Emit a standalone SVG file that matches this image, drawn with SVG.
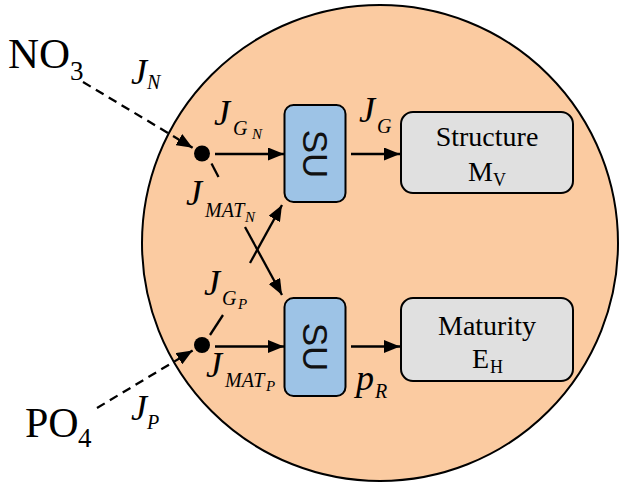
<svg xmlns="http://www.w3.org/2000/svg" width="619" height="483" viewBox="0 0 619 483">
<style>
.serif{font-family:"Liberation Serif","Times New Roman",serif;fill:#000}
.j{font-family:"Liberation Serif","Times New Roman",serif;font-style:italic;font-size:36px}
.s1{font-family:"Liberation Serif","Times New Roman",serif;font-style:italic;font-size:20px}
.s2{font-family:"Liberation Serif","Times New Roman",serif;font-style:italic;font-size:15px}
.su{fill:#9dc3e6;stroke:#000;stroke-width:2}
.sut{font-family:"Liberation Sans",Arial,sans-serif;font-size:35px;text-anchor:middle;dominant-baseline:central;fill:#111}
.box{fill:#e0e0e0;stroke:#000;stroke-width:2}
.ln{stroke:#000;stroke-width:2.3;fill:none}
.dash{stroke:#000;stroke-width:2.3;fill:none;stroke-dasharray:9 6}
.bx{font-family:"Liberation Serif","Times New Roman",serif;font-size:28px;text-anchor:middle}
</style>
<defs>
<marker id="ah" viewBox="0 0 16 13" refX="16" refY="6.5" markerWidth="16" markerHeight="13" markerUnits="userSpaceOnUse" orient="auto">
<path d="M0,0 L16,6.5 L0,13 z" fill="#000"/>
</marker>
</defs>
<g id="cell">
<circle cx="380" cy="243" r="238" fill="#fbcba1" stroke="#000" stroke-width="2"/>
</g>
<g id="no3">
<text class="serif" x="8" y="68" font-size="43">NO</text>
<text class="serif" x="70" y="80" font-size="27">3</text>
</g>
<g id="po4">
<text class="serif" x="25" y="437" font-size="42">PO</text>
<text class="serif" x="78" y="447" font-size="27">4</text>
</g>
<g id="dotN"><circle cx="202" cy="153.5" r="8" fill="#000"/></g>
<g id="dotP"><circle cx="202" cy="345" r="8" fill="#000"/></g>
<g id="su1">
<rect class="su" x="284.5" y="105" width="61" height="97" rx="9"/>
<text class="sut" x="315" y="154" transform="rotate(90 315 154)">SU</text>
</g>
<g id="su2">
<rect class="su" x="284.5" y="298" width="61" height="98" rx="9"/>
<text class="sut" x="315" y="347" transform="rotate(90 315 347)">SU</text>
</g>
<g id="structure">
<rect class="box" x="401" y="112" width="172" height="81" rx="12"/>
<text class="bx" x="487" y="146">Structure</text>
<text class="serif" x="468" y="181" font-size="28">M</text>
<text class="serif" x="493" y="186" font-size="18">V</text>
</g>
<g id="maturity">
<rect class="box" x="401" y="298" width="172" height="83" rx="12"/>
<text class="bx" x="487" y="335">Maturity</text>
<text class="serif" x="472" y="368" font-size="28">E</text>
<text class="serif" x="490" y="373" font-size="18">H</text>
</g>
<g id="connectors">
<line class="dash" x1="83" y1="82" x2="192.6" y2="147.8" marker-end="url(#ah)"/>
<line class="dash" x1="97" y1="408" x2="192.6" y2="350.5" marker-end="url(#ah)"/>
<line class="ln" x1="215" y1="154" x2="284" y2="154" marker-end="url(#ah)"/>
<line class="ln" x1="351" y1="154" x2="400" y2="154" marker-end="url(#ah)"/>
<line class="ln" x1="215" y1="346.5" x2="284" y2="346.5" marker-end="url(#ah)"/>
<line class="ln" x1="351" y1="346.5" x2="400" y2="346.5" marker-end="url(#ah)"/>
<line class="ln" x1="250" y1="263" x2="282" y2="205" marker-end="url(#ah)"/>
<line class="ln" x1="245" y1="227" x2="282" y2="295" marker-end="url(#ah)"/>
<line class="ln" x1="211.5" y1="163.5" x2="218.5" y2="177"/>
<line class="ln" x1="210" y1="335" x2="223" y2="315"/>
</g>
<g id="labels">
<text class="j" x="131" y="84">J</text><text class="s1" x="147" y="89">N</text>
<text class="j" x="214" y="125">J</text><text class="s1" x="233" y="135">G</text><text class="s2" x="252" y="139">N</text>
<text class="j" x="359" y="122">J</text><text class="s1" x="377" y="133">G</text>
<text class="j" x="186" y="205">J</text><text class="s1" x="205" y="217">MAT</text><text class="s2" x="245" y="222">N</text>
<text class="j" x="204" y="295">J</text><text class="s1" x="222" y="305">G</text><text class="s2" x="238" y="309">P</text>
<text class="j" x="206" y="377">J</text><text class="s1" x="225" y="387">MAT</text><text class="s2" x="266" y="391">P</text>
<text class="j" x="131" y="420">J</text><text class="s1" x="147" y="429">P</text>
<text class="j" x="356" y="390">p</text><text class="s1" x="375" y="398">R</text>
</g>
</svg>
